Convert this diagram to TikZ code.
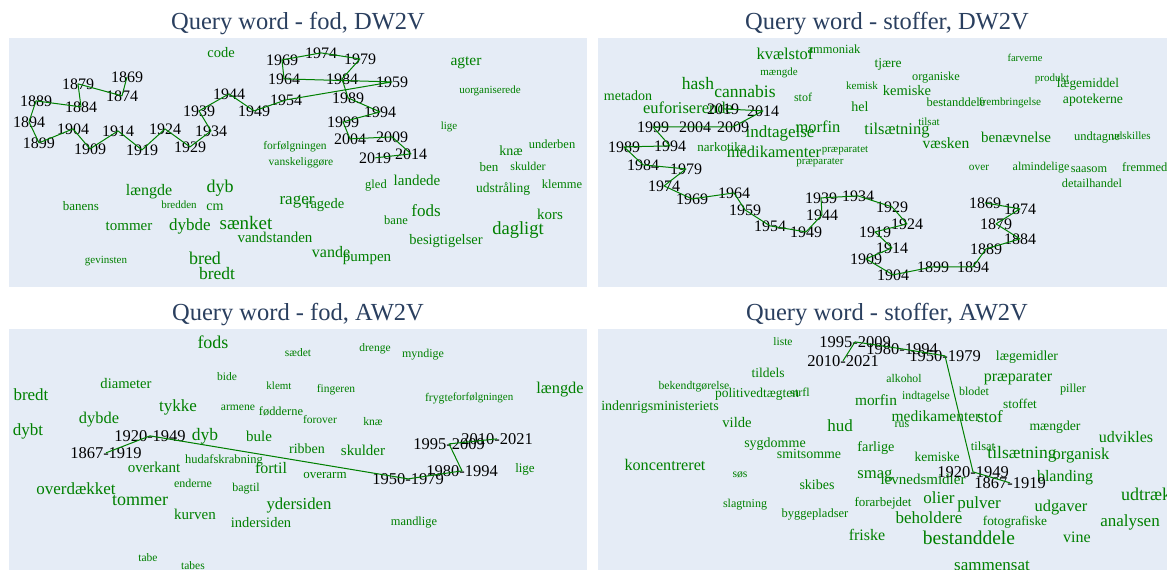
\documentclass[tikz,border=0pt]{standalone}
\usepackage{fontspec}
\setmainfont{Liberation Serif}
\definecolor{wg}{RGB}{0,128,0}
\definecolor{pbg}{HTML}{E5ECF6}
\definecolor{ttl}{HTML}{2A3F5F}
\newcommand\fsz[1]{\fontsize{#1}{#1}\selectfont}
\newcommand\W[6][wd]{\node[#1,font=\fsz{#5}] (#2) at ({#3},{#4+0.32*#5}) {#6};}
\tikzset{
  wd/.style={text=wg,inner sep=0pt,anchor=base},
  yr/.style={text=black,inner sep=0pt,anchor=base},
  ln/.style={draw=wg,line width=1pt,line join=round},
  panel/.style={fill=pbg,draw=none},
  ttlstyle/.style={text=ttl,inner sep=0pt,anchor=base,font=\fsz{24.5}}
}
\begin{document}
\begin{tikzpicture}[x=1pt,y=-1pt]
\clip (0,0) rectangle (1167,570);
\fill[white] (0,0) rectangle (1167,570);
% panels
\fill[panel] (9,37.5) rectangle (587,287);
\fill[panel] (598,37.5) rectangle (1176,287);
\fill[panel] (9,329) rectangle (587,580);
\fill[panel] (598,329) rectangle (1176,580);
% titles
\node[ttlstyle] (t1) at (298,29.5) {Query word - fod, DW2V};
\node[ttlstyle] (t2) at (887,29.5) {Query word - stoffer, DW2V};
\node[ttlstyle] (t3) at (298,320.5) {Query word - fod, AW2V};
\node[ttlstyle] (t4) at (887,320.5) {Query word - stoffer, AW2V};

% ---------------- panel 1 ----------------
\W{a1}{221}{53}{14.5}{code}
\W{a2}{466}{61}{15.5}{agter}
\W{a3}{490}{90}{11}{uorganiserede}
\W{a4}{449}{126}{11}{lige}
\W{a5}{511}{151}{14}{knæ}
\W{a6}{552}{144}{12.5}{underben}
\W{a7}{295}{146}{11.5}{forfølgningen}
\W{a8}{301}{162}{11.5}{vanskeliggøre}
\W{a9}{149}{190}{16}{længde}
\W{a10}{220}{187}{18}{dyb}
\W{a11}{81}{206}{13}{banens}
\W{a12}{179}{205}{11}{bredden}
\W{a13}{215}{206}{14}{cm}
\W{a14}{129}{226}{15}{tommer}
\W{a15}{190}{225}{17}{dybde}
\W{a16}{246}{223}{19}{sænket}
\W{a17}{275}{238}{15}{vandstanden}
\W{a18}{106}{260}{11}{gevinsten}
\W{a19}{205}{259}{18}{bred}
\W{a20}{217}{274}{17.5}{bredt}
\W{a21}{297}{199}{17}{rager}
\W{a22}{325}{204}{14.5}{ragede}
\W{a23}{376}{184}{12.5}{gled}
\W{a24}{417}{181}{15}{landede}
\W{a25}{489}{167}{13}{ben}
\W{a26}{528}{167}{12}{skulder}
\W{a27}{503}{188}{13.5}{udstråling}
\W{a28}{562}{184}{12.5}{klemme}
\W{a29}{426}{211}{17}{fods}
\W{a30}{396}{220}{12.5}{bane}
\W{a31}{550}{215}{15}{kors}
\W{a32}{518}{229}{18.5}{dagligt}
\W{a33}{446}{240}{14.5}{besigtigelser}
\W{a34}{331}{252}{16}{vande}
\W{a35}{367}{257}{15}{pumpen}
% years
\W[yr]{p1y1869}{127}{77}{16}{1869}
\W[yr]{p1y1874}{122}{96}{16}{1874}
\W[yr]{p1y1879}{78}{84}{16}{1879}
\W[yr]{p1y1884}{81}{107}{16}{1884}
\W[yr]{p1y1889}{36}{101}{16}{1889}
\W[yr]{p1y1894}{29}{122}{16}{1894}
\W[yr]{p1y1899}{39}{143}{16}{1899}
\W[yr]{p1y1904}{73}{129}{16}{1904}
\W[yr]{p1y1909}{90}{149}{16}{1909}
\W[yr]{p1y1914}{118}{131}{16}{1914}
\W[yr]{p1y1919}{142}{150}{16}{1919}
\W[yr]{p1y1924}{165}{129}{16}{1924}
\W[yr]{p1y1929}{190}{147}{16}{1929}
\W[yr]{p1y1934}{211}{131}{16}{1934}
\W[yr]{p1y1939}{199}{111}{16}{1939}
\W[yr]{p1y1944}{229}{94}{16}{1944}
\W[yr]{p1y1949}{254}{111}{16}{1949}
\W[yr]{p1y1954}{286}{100}{16}{1954}
\W[yr]{p1y1959}{392}{82}{16}{1959}
\W[yr]{p1y1964}{284}{79}{16}{1964}
\W[yr]{p1y1969}{282}{60}{16}{1969}
\W[yr]{p1y1974}{321}{53}{16}{1974}
\W[yr]{p1y1979}{360}{59}{16}{1979}
\W[yr]{p1y1984}{342}{79}{16}{1984}
\W[yr]{p1y1989}{348}{98}{16}{1989}
\W[yr]{p1y1994}{380}{112}{16}{1994}
\W[yr]{p1y1999}{343}{122}{16}{1999}
\W[yr]{p1y2004}{350}{139}{16}{2004}
\W[yr]{p1y2009}{392}{137}{16}{2009}
\W[yr]{p1y2014}{411}{154}{16}{2014}
\W[yr]{p1y2019}{375}{158}{16}{2019}
\draw[ln] (p1y1869.center)
  \foreach \y in {1874,1879,1884,1889,1894,1899,1904,1909,1914,1919,1924,1929,1934,1939,1944,1949,1954,1959,1964,1969,1974,1979,1984,1989,1994,1999,2004,2009,2014,2019} {-- (p1y\y.center)};

% ---------------- panel 2 ----------------
\W{b1}{785}{54}{16.5}{kvælstof}
\W{b2}{834}{49}{12.5}{ammoniak}
\W{b3}{779}{72}{11}{mængde}
\W{b4}{888}{63}{13.5}{tjære}
\W{b5}{698}{84}{17.5}{hash}
\W{b6}{745}{92}{17.5}{cannabis}
\W{b7}{628}{96}{14}{metadon}
\W{b8}{803}{98}{12}{stof}
\W{b9}{862}{86}{11}{kemisk}
\W{b10}{860}{107}{14}{hel}
\W{b11}{688}{108}{16.5}{euforiserende}
\W{b12}{780}{132}{17}{indtagelse}
\W{b13}{818}{127}{16.5}{morfin}
\W{b14}{897}{129}{16.5}{tilsætning}
\W{b15}{722}{147}{13}{narkotika}
\W{b16}{774}{152}{16.5}{medikamenter}
\W{b17}{845}{149}{11}{præparatet}
\W{b18}{820}{161}{11}{præparater}
\W{b19}{1025}{58}{10.5}{farverne}
\W{b20}{936}{77}{12.3}{organiske}
\W{b21}{1052}{78}{11}{produkt}
\W{b22}{1088}{83}{13.3}{lægemiddel}
\W{b23}{907}{91}{14.5}{kemiske}
\W{b24}{956}{102}{12.5}{bestanddele}
\W{b25}{1010}{102}{11.2}{frembringelse}
\W{b26}{1093}{99}{13.7}{apotekerne}
\W{b27}{929}{122}{11}{tilsat}
\W{b28}{946}{144}{15.6}{væsken}
\W{b29}{1016}{138}{15}{benævnelse}
\W{b30}{1097}{136}{12.5}{undtagne}
\W{b31}{1131}{136}{11}{udskilles}
\W{b32}{979}{167}{11.3}{over}
\W{b33}{1041}{167}{12}{almindelige}
\W{b34}{1089}{169}{12.3}{saasom}
\W[wd,anchor=base west]{b35}{1122}{167}{12.5}{fremmed}
\W{b36}{1092}{184}{12.3}{detailhandel}
% years
\W[yr]{p2y2019}{723}{109}{16}{2019}
\W[yr]{p2y2014}{763}{111}{16}{2014}
\W[yr]{p2y1999}{653}{127}{16}{1999}
\W[yr]{p2y2004}{695}{127}{16}{2004}
\W[yr]{p2y2009}{733}{127}{16}{2009}
\W[yr]{p2y1989}{624}{147}{16}{1989}
\W[yr]{p2y1994}{670}{146}{16}{1994}
\W[yr]{p2y1984}{643}{165}{16}{1984}
\W[yr]{p2y1979}{686}{169}{16}{1979}
\W[yr]{p2y1974}{664}{186}{16}{1974}
\W[yr]{p2y1969}{692}{199}{16}{1969}
\W[yr]{p2y1964}{734}{193}{16}{1964}
\W[yr]{p2y1959}{745}{210}{16}{1959}
\W[yr]{p2y1954}{770}{226}{16}{1954}
\W[yr]{p2y1949}{806}{232}{16}{1949}
\W[yr]{p2y1944}{822}{215}{16}{1944}
\W[yr]{p2y1939}{821}{198}{16}{1939}
\W[yr]{p2y1934}{858}{196}{16}{1934}
\W[yr]{p2y1929}{892}{207}{16}{1929}
\W[yr]{p2y1924}{907}{224}{16}{1924}
\W[yr]{p2y1919}{875}{232}{16}{1919}
\W[yr]{p2y1914}{892}{248}{16}{1914}
\W[yr]{p2y1909}{866}{259}{16}{1909}
\W[yr]{p2y1904}{893}{275}{16}{1904}
\W[yr]{p2y1899}{933}{267}{16}{1899}
\W[yr]{p2y1894}{973}{267}{16}{1894}
\W[yr]{p2y1889}{986}{249}{16}{1889}
\W[yr]{p2y1884}{1020}{239}{16}{1884}
\W[yr]{p2y1879}{996}{224}{16}{1879}
\W[yr]{p2y1874}{1020}{209}{16}{1874}
\W[yr]{p2y1869}{985}{203}{16}{1869}
\draw[ln] (p2y1869.center)
  \foreach \y in {1874,1879,1884,1889,1894,1899,1904,1909,1914,1919,1924,1929,1934,1939,1944,1949,1954,1959,1964,1969,1974,1979,1984,1989,1994,1999,2004,2009,2014,2019} {-- (p2y\y.center)};

% ---------------- panel 3 ----------------
\W{c1}{213}{343}{18}{fods}
\W{c2}{298}{353}{11.5}{sædet}
\W{c3}{375}{348}{11.5}{drenge}
\W{c4}{423}{354}{12}{myndige}
\W{c5}{227}{377}{11.5}{bide}
\W{c6}{126}{384}{14.6}{diameter}
\W{c7}{279}{386}{11}{klemt}
\W{c8}{336}{389}{11.5}{fingeren}
\W{c9}{31}{395}{17}{bredt}
\W{c10}{560}{388}{16.4}{længde}
\W{c11}{439}{398}{11.7}{frygte}
\W{c12}{483}{397}{11}{forfølgningen}
\W{c13}{178}{406}{17}{tykke}
\W{c14}{238}{407}{11.6}{armene}
\W{c15}{281}{412}{12.4}{fødderne}
\W{c16}{320}{420}{11.5}{forover}
\W{c17}{373}{422}{11.6}{knæ}
\W{c18}{99}{418}{16.4}{dybde}
\W{c19}{28}{430}{17}{dybt}
\W{c20}{205}{435}{17.5}{dyb}
\W{c21}{259}{437}{15}{bule}
\W{c22}{307}{449}{14}{ribben}
\W{c23}{363}{451}{15}{skulder}
\W{c24}{224}{459}{12.5}{hudafskrabning}
\W{c25}{154}{468}{15}{overkant}
\W{c26}{271}{468}{16}{fortil}
\W{c27}{325}{474}{13}{overarm}
\W{c28}{525}{468}{13}{lige}
\W{c29}{193}{484}{12}{enderne}
\W{c30}{246}{488}{12}{bagtil}
\W{c31}{76}{489}{17}{overdækket}
\W{c32}{140}{500}{18}{tommer}
\W{c33}{299}{504}{16.7}{ydersiden}
\W{c34}{195}{515}{15}{kurven}
\W{c35}{261}{523}{14.5}{indersiden}
\W{c36}{414}{522}{12.4}{mandlige}
\W{c37}{148}{558}{11.5}{tabe}
\W{c38}{193}{566}{11.5}{tabes}
\W[yr]{p3r1}{106}{453}{16.5}{1867-1919}
\W[yr]{p3r2}{150}{436}{16.5}{1920-1949}
\W[yr]{p3r3}{408}{479}{16.5}{1950-1979}
\W[yr]{p3r4}{462}{471}{16.5}{1980-1994}
\W[yr]{p3r5}{449}{444}{16.5}{1995-2009}
\W[yr]{p3r6}{497}{439}{16.5}{2010-2021}
\draw[ln] (p3r1.center) -- (p3r2.center) -- (p3r3.center) -- (p3r4.center) -- (p3r5.center) -- (p3r6.center);

% ---------------- panel 4 ----------------
\W{d1}{783}{342}{11.5}{liste}
\W{d2}{1027}{356}{13.8}{lægemidler}
\W{d3}{768}{373}{13.5}{tildels}
\W{d4}{1018}{376}{16}{præparater}
\W{d5}{904}{379}{11.7}{alkohol}
\W{d6}{1073}{389}{12.3}{piller}
\W{d7}{694}{386}{11.7}{bekendtgørelse}
\W{d8}{757}{393}{13.5}{politivedtægten}
\W{d9}{800}{393}{12}{strfl}
\W{d10}{926}{396}{11.8}{indtagelse}
\W{d11}{974}{392}{12}{blodet}
\W{d12}{876}{401}{15.4}{morfin}
\W{d13}{660}{406}{14}{indenrigsministeriets}
\W{d14}{1020}{404}{13.3}{stoffet}
\W{d15}{936}{417}{15.5}{medikamenter}
\W{d16}{990}{417}{17}{stof}
\W{d17}{737}{423}{14.6}{vilde}
\W{d18}{840}{426}{17}{hud}
\W{d19}{902}{424}{12}{rus}
\W{d20}{1055}{426}{13.7}{mængder}
\W{d21}{1126}{437}{16}{udvikles}
\W{d22}{775}{443}{14}{sygdomme}
\W{d23}{876}{447}{14.2}{farlige}
\W{d24}{983}{446}{12.5}{tilsat}
\W{d25}{809}{454}{13.9}{smitsomme}
\W{d26}{937}{457}{13.5}{kemiske}
\W{d27}{1022}{453}{17.5}{tilsætning}
\W{d28}{1081}{454}{16.6}{organisk}
\W{d29}{665}{465}{16.2}{koncentreret}
\W{d30}{740}{474}{11.7}{søs}
\W{d31}{875}{473}{16.6}{smag}
\W{d32}{923}{480}{15}{levnedsmidler}
\W{d33}{1065}{476}{16}{blanding}
\W{d34}{817}{485}{14}{skibes}
\W[wd,anchor=base west]{d35}{1121}{495}{18}{udtræk}
\W{d36}{745}{504}{12}{slagtning}
\W{d37}{883}{502}{13}{forarbejdet}
\W{d38}{939}{498}{17}{olier}
\W{d39}{979}{503}{17}{pulver}
\W{d40}{1061}{506}{16.4}{udgaver}
\W{d41}{815}{513}{12.5}{byggepladser}
\W{d42}{929}{518}{17}{beholdere}
\W{d43}{1015}{521}{13.3}{fotografiske}
\W{d44}{1130}{521}{17}{analysen}
\W{d45}{867}{535}{16}{friske}
\W{d46}{969}{538}{19.5}{bestanddele}
\W{d47}{1077}{537}{16}{vine}
\W{d48}{992}{565}{17}{sammensat}
\W[yr]{p4r1}{1010}{483}{16.5}{1867-1919}
\W[yr]{p4r2}{973}{472}{16.5}{1920-1949}
\W[yr]{p4r3}{945}{356}{16.5}{1950-1979}
\W[yr]{p4r4}{902}{349}{16.5}{1980-1994}
\W[yr]{p4r5}{855}{342}{16.5}{1995-2009}
\W[yr]{p4r6}{843}{361}{16.5}{2010-2021}
\draw[ln] (p4r1.center) -- (p4r2.center) -- (p4r3.center) -- (p4r4.center) -- (p4r5.center) -- (p4r6.center);
\end{tikzpicture}
\end{document}
